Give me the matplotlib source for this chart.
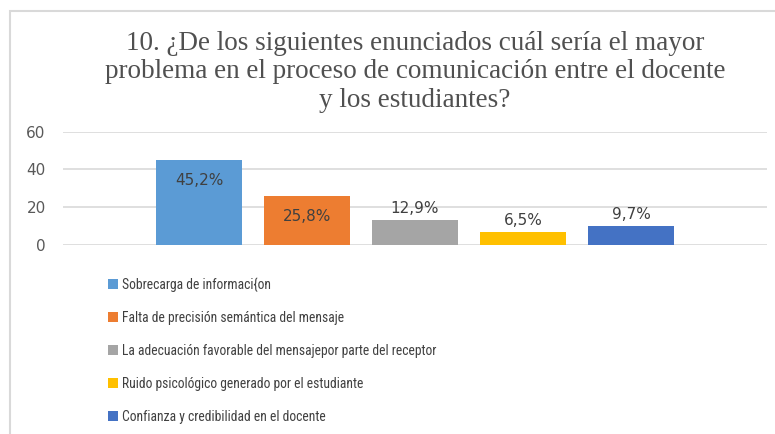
import matplotlib.pyplot as plt
from matplotlib.patches import Rectangle
from matplotlib import font_manager

# datos de la pregunta 10
categorias = ["Sobrecarga de informaci{on",
              "Falta de precisión semántica del mensaje",
              "La adecuación favorable del mensajepor parte del receptor",
              "Ruido psicológico generado por el estudiante",
              "Confianza y credibilidad en el docente"]
valores = [45.2, 25.8, 12.9, 6.5, 9.7]
etiquetas = ["45,2%", "25,8%", "12,9%", "6,5%", "9,7%"]
colores = ["#5B9BD5", "#ED7D31", "#A5A5A5", "#FFC000", "#4472C4"]
titulo = ("10. ¿De los siguientes enunciados cuál sería el mayor\n"
          "problema en el proceso de comunicación entre el docente\n"
          "y los estudiantes?")

# buscar una fuente estrecha parecida a la del original
nombres = {f.name for f in font_manager.fontManager.ttflist}
fuente_leyenda, tam_leyenda = "Liberation Sans", 9.2
for nombre in ["Liberation Sans Narrow", "Roboto Condensed", "DejaVu Sans Condensed"]:
    if nombre in nombres:
        fuente_leyenda, tam_leyenda = nombre, 9.8
        break

fig = plt.figure(figsize=(7.75, 4.34), dpi=100)
fig.patch.set_facecolor("white")

# marco del gráfico
fig.patches.append(Rectangle((10 / 775, -0.1), 1.0, 1 - 11 / 434 + 0.1,
                             transform=fig.transFigure, fill=False,
                             edgecolor="#D9D9D9", linewidth=1.5))

ax = fig.add_axes([63 / 775, 1 - 244.7 / 434, 704 / 775, 113 / 434])
x = list(range(len(valores)))
barras = ax.bar(x, valores, width=0.79, color=colores, zorder=3)

for i, (v, t) in enumerate(zip(valores, etiquetas)):
    y = v - 11 if v > 20 else v + 6.4
    ax.text(i, y, t, ha="center", va="center", fontsize=11, color="#404040",
            zorder=4)

ax.set_ylim(0, 60)
ax.set_xlim(-1.26, 5.26)
ax.set_yticks([0, 20, 40, 60])
ax.set_xticks([])
ax.tick_params(axis="y", length=0, pad=12.5, labelsize=11, labelcolor="#595959")
ax.grid(axis="y", color="#D9D9D9", linewidth=1.2, zorder=0)
for s in ax.spines.values():
    s.set_visible(False)

fig.text(415 / 775, 1 - 72 / 434, titulo, ha="center", va="center",
         fontsize=19.5, family="Liberation Serif", color="#505050",
         linespacing=1.19)

fig.legend(barras, categorias, loc="upper left",
           bbox_to_anchor=(96 / 775, 1 - 265 / 434),
           frameon=False, handlelength=0.7, handleheight=0.7,
           handletextpad=0.3, labelspacing=1.4,
           prop={"family": fuente_leyenda, "size": tam_leyenda},
           labelcolor="#404040")

fig.savefig("out.png", dpi=100)
